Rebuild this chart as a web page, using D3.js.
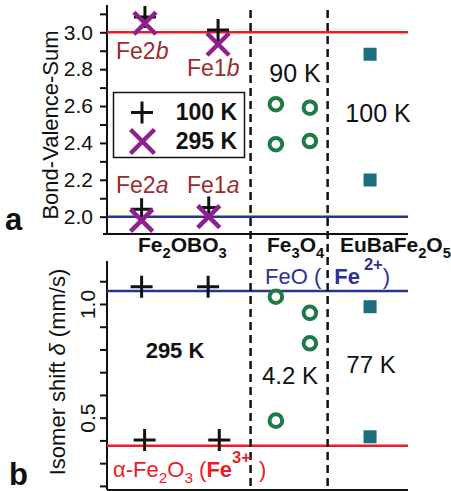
<!DOCTYPE html>
<html>
<head>
<meta charset="utf-8">
<script src="https://cdn.jsdelivr.net/npm/d3@7"></script>
<style>
  body { margin: 0; background: #fff; }
  text { font-family: "Liberation Sans", Arial, sans-serif; }
</style>
</head>
<body>
<svg id="chart"></svg>
<script>
// column layout (x in "slot" units, 0..10 across the plot)
var categories = ["Fe2OBO3", "Fe3O4", "EuBaFe2O5"];
var dividers = [4.77, 7.33];

// panel a: bond valence sums
var sites = ["Fe2b", "Fe1b", "Fe2a", "Fe1a"];
var siteX = [1.26, 3.69, 1.15, 3.38];
var bvs100K = [3.083, 3.012, 2.04, 2.05];
var bvs295K = [3.049, 2.935, 1.98, 2.0];
var fe3o4X = [5.61, 6.74, 5.61, 6.74];
var fe3o4Bvs = [2.61, 2.591, 2.393, 2.41];
var eubaX = [8.74, 8.74];
var eubaBvs = [2.881, 2.199];
var bvsRefs = [3.0, 2.0];

// panel b: isomer shifts
var feoboIsoX = [1.15, 3.36, 1.25, 3.73];
var feoboIso = [1.076, 1.076, 0.402, 0.402];
var fe3o4IsoX = [5.61, 6.74, 6.74, 5.61];
var fe3o4Iso = [1.032, 0.961, 0.827, 0.487];
var eubaIso = [0.988, 0.416];
var feoIso = 1.057;
var hematiteIso = 0.377;

var width = 451, height = 491;
var red = '#ed1c24', blue = '#2e3192', darkRed = '#9d2a2e',
    purple = '#8f1f8f', green = '#1f7a45', teal = '#1c6e7f';

var svg = d3.select('#chart')
  .attr('width', width)
  .attr('height', height);

var x = d3.scaleLinear().domain([0, 10]).range([107, 408]);
var yTop = d3.scaleLinear().domain([1.906, 3.148]).range([234, 5]);
var yBot = d3.scaleLinear().domain([0.182, 1.189]).range([490, 261]);

// rich text helper: parts = [[text, opts]]
function rich(g, px, py, parts, size, color, anchor) {
  var t = g.append('text')
    .attr('x', px).attr('y', py)
    .attr('font-size', size)
    .attr('fill', color)
    .attr('text-anchor', anchor || 'start');
  parts.forEach(function(p) {
    var o = p[1] || {};
    var s = t.append('tspan').text(p[0]);
    if (o.b) s.attr('font-weight', 'bold');
    if (o.i) s.attr('font-style', 'italic');
    if (o.sub) s.attr('font-size', size * 0.7).attr('baseline-shift', '-40%');
    if (o.sup) s.attr('font-size', size * 0.75).attr('baseline-shift', '85%');
    if (o.dx) s.attr('dx', o.dx);
  });
  return t;
}

function plusPath(s) {
  return 'M' + (-s) + ',0H' + s + 'M0,' + (-s) + 'V' + s;
}
function crossPath(s) {
  return 'M' + (-s) + ',' + (-s) + 'L' + s + ',' + s + 'M' + (-s) + ',' + s + 'L' + s + ',' + (-s);
}

// ---------- axes ----------
var topAxis = d3.axisLeft(yTop)
  .tickValues(d3.range(20, 32).map(function(v) { return v / 10; }))
  .tickSize(7)
  .tickPadding(7)
  .tickFormat(function(v) { return Math.round(v * 10) % 2 === 0 ? v.toFixed(1) : ''; });

var gTop = svg.append('g')
  .attr('transform', 'translate(' + x(0) + ',0)')
  .call(topAxis);
gTop.select('.domain').attr('d', 'M0,' + yTop.range()[0] + 'V' + yTop.range()[1]);
gTop.selectAll('path, line').attr('stroke', '#111').attr('stroke-width', 2);
gTop.selectAll('text').attr('font-size', 21).attr('font-family', '"Liberation Sans", Arial').attr('fill', '#111');

var botAxis = d3.axisLeft(yBot)
  .tickValues(d3.range(2, 12).map(function(v) { return v / 10; }))
  .tickSize(7)
  .tickFormat(function(v) { var r = Math.round(v * 10); return (r === 5 || r === 10) ? v.toFixed(1) : ''; });

var gBot = svg.append('g')
  .attr('transform', 'translate(' + x(0) + ',0)')
  .call(botAxis);
gBot.select('.domain').attr('d', 'M0,' + yBot.range()[0] + 'V' + yBot.range()[1]);
gBot.selectAll('path, line').attr('stroke', '#111').attr('stroke-width', 2);
gBot.selectAll('text')
  .attr('font-size', 21).attr('font-family', '"Liberation Sans", Arial').attr('fill', '#111')
  .attr('transform', 'rotate(-90)')
  .attr('text-anchor', 'middle')
  .attr('x', 0).attr('y', -12).attr('dy', 0);

// x baselines
svg.append('line')
  .attr('x1', x(0) - 4).attr('x2', x(10))
  .attr('y1', yTop.range()[0]).attr('y2', yTop.range()[0])
  .attr('stroke', '#111').attr('stroke-width', 2);
svg.append('line')
  .attr('x1', x(0)).attr('x2', x(10))
  .attr('y1', yBot.range()[0]).attr('y2', yBot.range()[0])
  .attr('stroke', '#111').attr('stroke-width', 2);

// reference lines
svg.selectAll('line.refTop')
  .data(bvsRefs)
  .enter().append('line')
  .attr('x1', x(0)).attr('x2', x(10))
  .attr('y1', function(d) { return yTop(d); })
  .attr('y2', function(d) { return yTop(d); })
  .attr('stroke', function(d, i) { return i === 0 ? red : blue; })
  .attr('stroke-width', 2.5);
svg.selectAll('line.refBot')
  .data([feoIso, hematiteIso])
  .enter().append('line')
  .attr('x1', x(0)).attr('x2', x(10))
  .attr('y1', function(d) { return yBot(d); })
  .attr('y2', function(d) { return yBot(d); })
  .attr('stroke', function(d, i) { return i === 0 ? blue : red; })
  .attr('stroke-width', 2.5);

// dashed column dividers
svg.selectAll('line.div')
  .data(dividers)
  .enter().append('line')
  .attr('x1', function(d) { return x(d); })
  .attr('x2', function(d) { return x(d); })
  .attr('y1', 10).attr('y2', height)
  .attr('stroke', '#111').attr('stroke-width', 2.5)
  .attr('stroke-dasharray', '8,5');

// ---------- panel a markers ----------
svg.selectAll('path.p100')
  .data(bvs100K)
  .enter().append('path')
  .attr('d', plusPath(11))
  .attr('transform', function(d, i) { return 'translate(' + x(siteX[i]) + ',' + yTop(d) + ')'; })
  .attr('stroke', '#111').attr('stroke-width', 3).attr('fill', 'none');
svg.selectAll('path.p295')
  .data(bvs295K)
  .enter().append('path')
  .attr('d', crossPath(11))
  .attr('transform', function(d, i) { return 'translate(' + x(siteX[i]) + ',' + yTop(d) + ')'; })
  .attr('stroke', purple).attr('stroke-width', 4.5).attr('fill', 'none');

svg.selectAll('circle.fa')
  .data(fe3o4Bvs)
  .enter().append('circle')
  .attr('cx', function(d, i) { return x(fe3o4X[i]); })
  .attr('cy', function(d) { return yTop(d); })
  .attr('r', 6.3)
  .attr('fill', 'none').attr('stroke', green).attr('stroke-width', 4);

svg.selectAll('rect.ea')
  .data(eubaBvs)
  .enter().append('rect')
  .attr('x', function(d, i) { return x(eubaX[i]) - 6.5; })
  .attr('y', function(d) { return yTop(d) - 6.5; })
  .attr('width', 13).attr('height', 13)
  .attr('fill', teal);

// ---------- panel b markers ----------
svg.selectAll('path.pb')
  .data(feoboIso)
  .enter().append('path')
  .attr('d', plusPath(11))
  .attr('transform', function(d, i) { return 'translate(' + x(feoboIsoX[i]) + ',' + yBot(d) + ')'; })
  .attr('stroke', '#111').attr('stroke-width', 3).attr('fill', 'none');

svg.selectAll('circle.fb')
  .data(fe3o4Iso)
  .enter().append('circle')
  .attr('cx', function(d, i) { return x(fe3o4IsoX[i]); })
  .attr('cy', function(d) { return yBot(d); })
  .attr('r', 6.3)
  .attr('fill', 'none').attr('stroke', green).attr('stroke-width', 4);

svg.selectAll('rect.eb')
  .data(eubaIso)
  .enter().append('rect')
  .attr('x', function(d, i) { return x(eubaX[i]) - 6.5; })
  .attr('y', function(d) { return yBot(d) - 6.5; })
  .attr('width', 13).attr('height', 13)
  .attr('fill', teal);

// ---------- legend ----------
var leg = svg.append('g');
leg.append('rect')
  .attr('x', 113.5).attr('y', 92.5).attr('width', 131).attr('height', 65)
  .attr('fill', 'none').attr('stroke', '#111').attr('stroke-width', 1.5);
leg.append('path').attr('d', plusPath(11))
  .attr('transform', 'translate(142,112.5)')
  .attr('stroke', '#111').attr('stroke-width', 3);
leg.append('path').attr('d', crossPath(12))
  .attr('transform', 'translate(142.5,141.5)')
  .attr('stroke', purple).attr('stroke-width', 4.5);
leg.append('text').attr('x', 237).attr('y', 120).attr('text-anchor', 'end')
  .attr('font-size', 23).attr('font-weight', 'bold').attr('fill', '#111').text('100 K');
leg.append('text').attr('x', 237).attr('y', 149).attr('text-anchor', 'end')
  .attr('font-size', 23).attr('font-weight', 'bold').attr('fill', '#111').text('295 K');

// ---------- text labels ----------
var siteLabelPos = [[116, 59], [187, 76], [116, 193], [187, 193]];
sites.forEach(function(s, i) {
  rich(svg, siteLabelPos[i][0], siteLabelPos[i][1],
    [[s.slice(0, 3)], [s.slice(3), { i: true }]], 23, darkRed);
});

rich(svg, 295, 82, [['90 K']], 25, '#111', 'middle');
rich(svg, 378, 122, [['100 K']], 25, '#111', 'middle');
rich(svg, 175, 358, [['295 K', { b: true }]], 22, '#111', 'middle');
rich(svg, 290, 384, [['4.2 K']], 24, '#111', 'middle');
rich(svg, 371, 373, [['77 K']], 24, '#111', 'middle');

// category names
rich(svg, 138, 252, [['Fe', { b: true }], ['2', { b: true, sub: true }], ['OBO', { b: true }], ['3', { b: true, sub: true }]], 21, '#111');
rich(svg, 267, 252, [['Fe', { b: true }], ['3', { b: true, sub: true }], ['O', { b: true }], ['4', { b: true, sub: true }]], 21, '#111');
rich(svg, 340, 252, [['EuBaFe', { b: true }], ['2', { b: true, sub: true }], ['O', { b: true }], ['5', { b: true, sub: true }]], 21, '#111');

// reference compound labels
rich(svg, 265, 284, [['FeO ('], ['Fe', { b: true, dx: 13 }], ['2+', { b: true, sup: true, dx: 4 }], [')', { dx: 0 }]], 22, blue);
rich(svg, 113, 477, [['\u03b1-Fe'], ['2', { sub: true }], ['O'], ['3', { sub: true }], [' ('], ['Fe', { b: true }], ['3+', { b: true, sup: true }], [')', { dx: 8 }]], 22, red);

// axis titles
svg.append('text')
  .attr('transform', 'translate(58,125) rotate(-90)')
  .attr('text-anchor', 'middle').attr('font-size', 22).attr('fill', '#111')
  .text('Bond-Valence-Sum');
var iso = svg.append('text')
  .attr('transform', 'translate(65,372) rotate(-90)')
  .attr('text-anchor', 'middle').attr('font-size', 22).attr('fill', '#111');
iso.append('tspan').text('Isomer shift ');
iso.append('tspan').attr('font-style', 'italic').text('\u03b4');
iso.append('tspan').text(' (mm/s)');

// panel letters
svg.append('text').attr('x', 5).attr('y', 230)
  .attr('font-size', 31).attr('font-weight', 'bold').attr('fill', '#111').text('a');
svg.append('text').attr('x', 9).attr('y', 485)
  .attr('font-size', 31).attr('font-weight', 'bold').attr('fill', '#111').text('b');
</script>
</body>
</html>
